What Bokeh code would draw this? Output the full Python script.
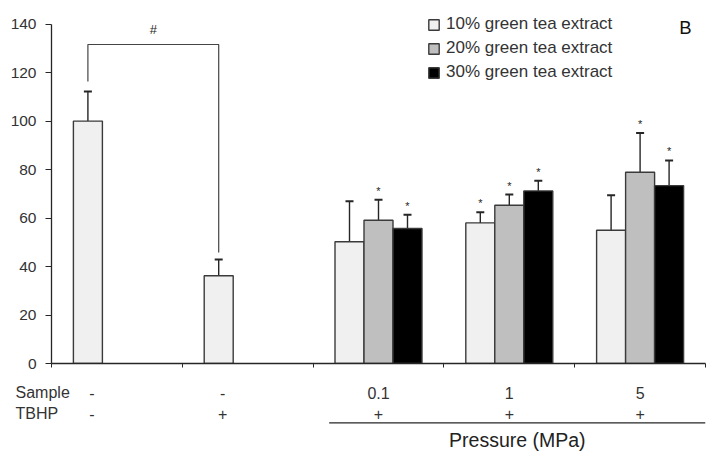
from bokeh.plotting import figure
from bokeh.layouts import column
from bokeh.models import (Range1d, FixedTicker, Whisker, TeeHead, Label,
                          Legend, LegendItem, ColumnDataSource)
from bokeh.core.properties import value
from bokeh.embed import file_html
from bokeh.resources import INLINE

# ---------------- data ----------------
categories = ["Control", "TBHP", "0.1 MPa", "1 MPa", "5 MPa"]
sample_row = ["-", "-", "0.1", "1", "5"]
tbhp_row = ["-", "+", "+", "+", "+"]
row_titles = ["Sample", "TBHP"]
series_names = ["10% green tea extract", "20% green tea extract", "30% green tea extract"]
mean_10 = [100.0, 36.2, 50.2, 58.0, 55.0]
err_10 = [12.2, 6.7, 16.7, 4.4, 14.4]
mean_20 = [None, None, 59.1, 65.3, 78.9]
err_20 = [None, None, 8.5, 4.4, 16.2]
mean_30 = [None, None, 55.7, 71.2, 73.4]
err_30 = [None, None, 5.7, 4.2, 10.4]
sig_10 = ["", "", "", "*", ""]
sig_20 = ["", "", "*", "*", "*"]
sig_30 = ["", "", "*", "*", "*"]
y_ticks = [0, 20, 40, 60, 80, 100, 120, 140]
bracket_low = [116.3, 45.8]
bracket_top = 131.6
panel_letter = "B"
pressure_title = "Pressure (MPa)"

# ---------------- styling ----------------
FONT = "Liberation Sans"
colors = ["#f0f0f0", "#bfbfbf", "#000000"]
outline = "#3a3a3a"
ink = "#262626"
BW = 0.2217  # bar width in category units
LEFT, RIGHT = 51, 2
N = len(categories)
px_per_cat = (707 - LEFT - RIGHT) / N

p = figure(width=707, height=383, output_backend="svg", toolbar_location=None,
           x_range=Range1d(0, N), y_range=Range1d(0, 147.7),
           min_border_left=LEFT, min_border_right=RIGHT, min_border_top=5, min_border_bottom=20)
p.outline_line_color = None
p.xgrid.visible = False
p.ygrid.visible = False

# y axis
ya = p.yaxis[0]
ya.ticker = FixedTicker(ticks=y_ticks)
ya.bounds = (0, 140)
ya.axis_line_color = ink
ya.axis_line_width = 1.3
ya.major_tick_line_color = ink
ya.major_tick_out = 6
ya.major_tick_in = 0
ya.minor_tick_line_color = None
ya.major_label_text_font = FONT
ya.major_label_text_font_size = "15.5px"
ya.major_label_text_color = "#333333"
ya.major_label_standoff = 9

# x axis (category boundaries, no labels)
xa = p.xaxis[0]
xa.ticker = FixedTicker(ticks=list(range(N + 1)))
xa.major_label_overrides = {i: "" for i in range(N + 1)}
xa.major_label_text_font_size = "1px"
xa.major_label_standoff = 0
xa.axis_line_color = ink
xa.axis_line_width = 1.3
xa.major_tick_line_color = ink
xa.major_tick_out = 4
xa.major_tick_in = 0
xa.minor_tick_line_color = None

means = [mean_10, mean_20, mean_30]
errs = [err_10, err_20, err_30]
sigs = [sig_10, sig_20, sig_30]

legend_items = []
bar_centers = {}
for k in range(3):
    xs, tops, ups, stars = [], [], [], []
    for i in range(N):
        m = means[k][i]
        if m is None:
            continue
        x = i + 0.5 + (k - 1) * BW
        bar_centers[(k, i)] = x
        xs.append(x)
        tops.append(m)
        ups.append(m + errs[k][i])
        stars.append(sigs[k][i])
    src = ColumnDataSource(dict(x=xs, top=tops, upper=ups, star=stars))
    r = p.vbar(x="x", top="top", width=BW, bottom=0, source=src,
               fill_color=colors[k], line_color=outline, line_width=1.4)
    legend_items.append(LegendItem(label=series_names[k], renderers=[r]))
    w = Whisker(base="x", lower="top", upper="upper", source=src,
                line_color=ink, line_width=1.4, lower_head=None,
                upper_head=TeeHead(size=8, line_color=ink, line_width=2))
    p.add_layout(w)
    p.text(x="x", y="upper", text="star", source=src, text_align="center",
           text_baseline="alphabetic", y_offset=-9, text_font=value(FONT),
           text_font_size="11px", text_color=ink)

# bracket between control and TBHP
xl = bar_centers[(0, 0)]
xr = bar_centers[(0, 1)]
p.line(x=[xl, xl, xr, xr], y=[bracket_low[0], bracket_top, bracket_top, bracket_low[1]],
       line_color="#444444", line_width=1.2)
p.add_layout(Label(x=(xl + xr) / 2, y=bracket_top + 3, text="#", text_align="center",
                   text_baseline="bottom", text_font=FONT, text_font_size="13px",
                   text_color=ink))

# legend
legend = Legend(items=legend_items, location=(376, 281), padding=0, spacing=4,
                glyph_width=13, glyph_height=13, label_standoff=6,
                label_text_font=FONT, label_text_font_size="17px",
                label_text_color="#333333", border_line_alpha=0,
                background_fill_alpha=0, margin=0)
p.add_layout(legend)

# panel letter
p.add_layout(Label(x=4.8, y=138.6, text=panel_letter, text_align="left",
                   text_baseline="alphabetic", text_font=FONT, text_font_size="18.5px",
                   text_color="#111111"))

# ---------------- bottom strip: condition rows and pressure bracket ----------------
H2 = 77
p2 = figure(width=707, height=H2, output_backend="svg", toolbar_location=None,
            x_range=Range1d(-LEFT / px_per_cat, N), y_range=Range1d(0, H2),
            min_border_left=0, min_border_right=RIGHT, min_border_top=0, min_border_bottom=0,
            x_axis_type=None, y_axis_type=None)
p2.outline_line_color = None
p2.xgrid.visible = False
p2.ygrid.visible = False
for fig in (p, p2):
    if "frame_align" in fig.properties():
        fig.frame_align = False

row_y = [68.0, 47.0]
lab_x = []
for i in range(N):
    n_bars = sum(1 for k in range(3) if means[k][i] is not None)
    lab_x.append(bar_centers[(0, i)] + 0.03 if n_bars == 1 else i + 0.5)
src_rows = ColumnDataSource(dict(x=lab_x + lab_x, y=[row_y[0]] * N + [row_y[1]] * N,
                                 t=sample_row + tbhp_row))
p2.text(x="x", y="y", text="t", source=src_rows, text_align="center",
        text_baseline="alphabetic", text_font=value(FONT), text_font_size="16px",
        text_color="#333333")
src_titles = ColumnDataSource(dict(x=[-0.275, -0.275], y=row_y, t=row_titles))
p2.text(x="x", y="y", text="t", source=src_titles, text_align="left",
        text_baseline="alphabetic", text_font=value(FONT), text_font_size="16px",
        text_color="#333333")

line_x0, line_x1, line_y = 2.123, 5.0, 37.7
p2.line(x=[line_x0, line_x1], y=[line_y, line_y], line_color=ink, line_width=1.2)
p2.text(x=[(line_x0 + line_x1) / 2], y=[20.5], text=[pressure_title], text_align="center",
        text_baseline="alphabetic", text_font=value(FONT), text_font_size="19.5px",
        text_color="#222222")

layout = column(p, p2, spacing=0)
open("out.html", "w").write(file_html(layout, INLINE))
